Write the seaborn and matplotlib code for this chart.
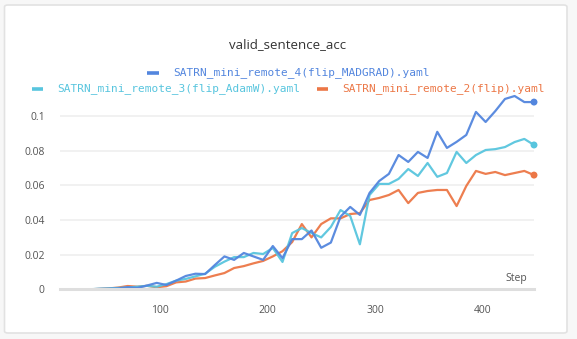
import matplotlib
matplotlib.use("Agg")
import matplotlib.pyplot as plt
from matplotlib.patches import FancyBboxPatch
from matplotlib.lines import Line2D
import seaborn as sns
import pandas as pd

steps = [7, 16, 25, 34, 43, 52, 61, 70, 79, 88, 97, 106, 115, 124, 133, 142, 151,
         160, 169, 178, 187, 196, 205, 214, 223, 232, 241, 250, 259, 268, 277, 286,
         295, 304, 313, 322, 331, 340, 349, 358, 367, 376, 385, 394, 403, 412, 421,
         430, 439, 448]

madgrad = [0, 0, 0, 0, 0.0002, 0.0003, 0.0005, 0.0012, 0.0008, 0.0022, 0.0037,
           0.0025, 0.005, 0.0077, 0.009, 0.0088, 0.014, 0.019, 0.017, 0.021, 0.019,
           0.017, 0.025, 0.018, 0.029, 0.029, 0.034, 0.024, 0.027, 0.042, 0.0476,
           0.043, 0.0557, 0.0626, 0.0667, 0.0776, 0.0736, 0.0794, 0.0759, 0.091,
           0.0817, 0.0852, 0.0892, 0.1025, 0.0967, 0.103, 0.11, 0.1117, 0.1082, 0.1082]

adamw = [0, 0, 0, 0, 0.0003, 0.0005, 0.0008, 0.001, 0.0015, 0.002, 0.0015, 0.003,
         0.005, 0.006, 0.0075, 0.009, 0.013, 0.016, 0.0186, 0.0186, 0.021, 0.0204,
         0.0239, 0.0158, 0.0325, 0.0354, 0.0325, 0.030, 0.036, 0.0458, 0.0424, 0.026,
         0.0545, 0.0609, 0.0609, 0.0638, 0.0695, 0.0655, 0.073, 0.065, 0.0672, 0.0794,
         0.073, 0.0776, 0.0805, 0.081, 0.0822, 0.0851, 0.0869, 0.0834]

flip = [0, 0, 0, 0, 0.0002, 0.0005, 0.001, 0.0019, 0.0015, 0.002, 0.0012, 0.0018,
        0.004, 0.0045, 0.0062, 0.0065, 0.008, 0.0094, 0.0123, 0.0134, 0.015, 0.0164,
        0.019, 0.022, 0.0273, 0.0377, 0.030, 0.0377, 0.041, 0.041, 0.0435, 0.044,
        0.0516, 0.0528, 0.0545, 0.0574, 0.0498, 0.0557, 0.0568, 0.0574, 0.0574,
        0.0481, 0.0597, 0.0684, 0.0667, 0.0678, 0.066, 0.0672, 0.0684, 0.066]

runs = ["SATRN_mini_remote_4(flip_MADGRAD).yaml",
        "SATRN_mini_remote_3(flip_AdamW).yaml",
        "SATRN_mini_remote_2(flip).yaml"]
colors = ["#5386de", "#58c5de", "#ec7746"]
y_ticks = [0, 0.02, 0.04, 0.06, 0.08, 0.1]
y_tick_labels = ["0", "0.02", "0.04", "0.06", "0.08", "0.1"]
x_ticks = [100, 200, 300, 400]

df = pd.concat([
    pd.DataFrame({"Step": steps, "value": vals, "run": name})
    for name, vals in zip(runs, [madgrad, adamw, flip])
], ignore_index=True)
last = df.groupby("run", sort=False).tail(1)

sns.set_style("white")
plt.rcParams["font.family"] = ["Open Sans", "DejaVu Sans"]

W, H = 577, 339
fig = plt.figure(figsize=(W / 100, H / 100), dpi=100, facecolor="#f7f7f7")

card = FancyBboxPatch((4.5 / W, 1 - 333 / H), (567 - 4.5) / W, (333 - 5) / H,
                      boxstyle="round,pad=0,rounding_size=0.006",
                      transform=fig.transFigure, facecolor="white",
                      edgecolor="#e2e2e2", linewidth=1.2, zorder=-10)
fig.patches.append(card)

ax = fig.add_axes([60 / W, 1 - 289.3 / H, (534 - 60) / W, (289.3 - 90.3) / H])
ax.set_facecolor("none")
ax.set_zorder(2)

palette = dict(zip(runs, colors))
draw_order = [runs[2], runs[1], runs[0]]
sns.lineplot(data=df, x="Step", y="value", hue="run", palette=palette,
             hue_order=draw_order, linewidth=1.6, alpha=0.95, ax=ax, legend=False,
             estimator=None, sort=False)
sns.scatterplot(data=last, x="Step", y="value", hue="run", palette=palette,
                hue_order=draw_order, s=25, edgecolor="none", ax=ax,
                legend=False, zorder=5, clip_on=False)

ax.set_xlim(steps[0], steps[-1])
ax.set_ylim(0, 0.115)
ax.set_yticks(y_ticks)
ax.set_yticklabels(y_tick_labels)
ax.set_xticks(x_ticks)
ax.set_xticklabels([str(t) for t in x_ticks])
ax.set_xlabel("")
ax.set_ylabel("")
for s in ["top", "right", "left"]:
    ax.spines[s].set_visible(False)
ax.spines["bottom"].set_color("#dedede")
ax.spines["bottom"].set_linewidth(2.2)
ax.grid(axis="y", color="#efefef", linewidth=1.2)
ax.grid(axis="x", visible=False)
ax.tick_params(axis="y", length=0, pad=11, labelsize=7.5, labelcolor="#555555")
ax.tick_params(axis="x", direction="inout", length=8.5, width=1, color="#dddddd",
               pad=7, labelsize=7.5, labelcolor="#555555")
ax.text(0.985, 0.052, "Step", transform=ax.transAxes, ha="right", va="center",
        fontsize=7.5, color="#555555")

fig.text(288 / W, 1 - 45 / H, "valid_sentence_acc", ha="center", va="center",
         fontsize=9.5, color="#333333")

mono = "DejaVu Sans Mono"
legend_items = [
    (147, 159, 173, 72.5, runs[0], colors[0]),
    (32, 43, 57, 88.5, runs[1], colors[1]),
    (317, 328, 342, 88.5, runs[2], colors[2]),
]
for x0, x1, xt, yy, label, col in legend_items:
    fig.add_artist(Line2D([x0 / W, x1 / W], [1 - yy / H, 1 - yy / H],
                          transform=fig.transFigure, color=col, linewidth=2.6,
                          solid_capstyle="butt"))
    fig.text(xt / W, 1 - yy / H, label, ha="left", va="center", fontsize=8,
             family=mono, color=col)

fig.savefig("out.png", dpi=100, facecolor=fig.get_facecolor())
